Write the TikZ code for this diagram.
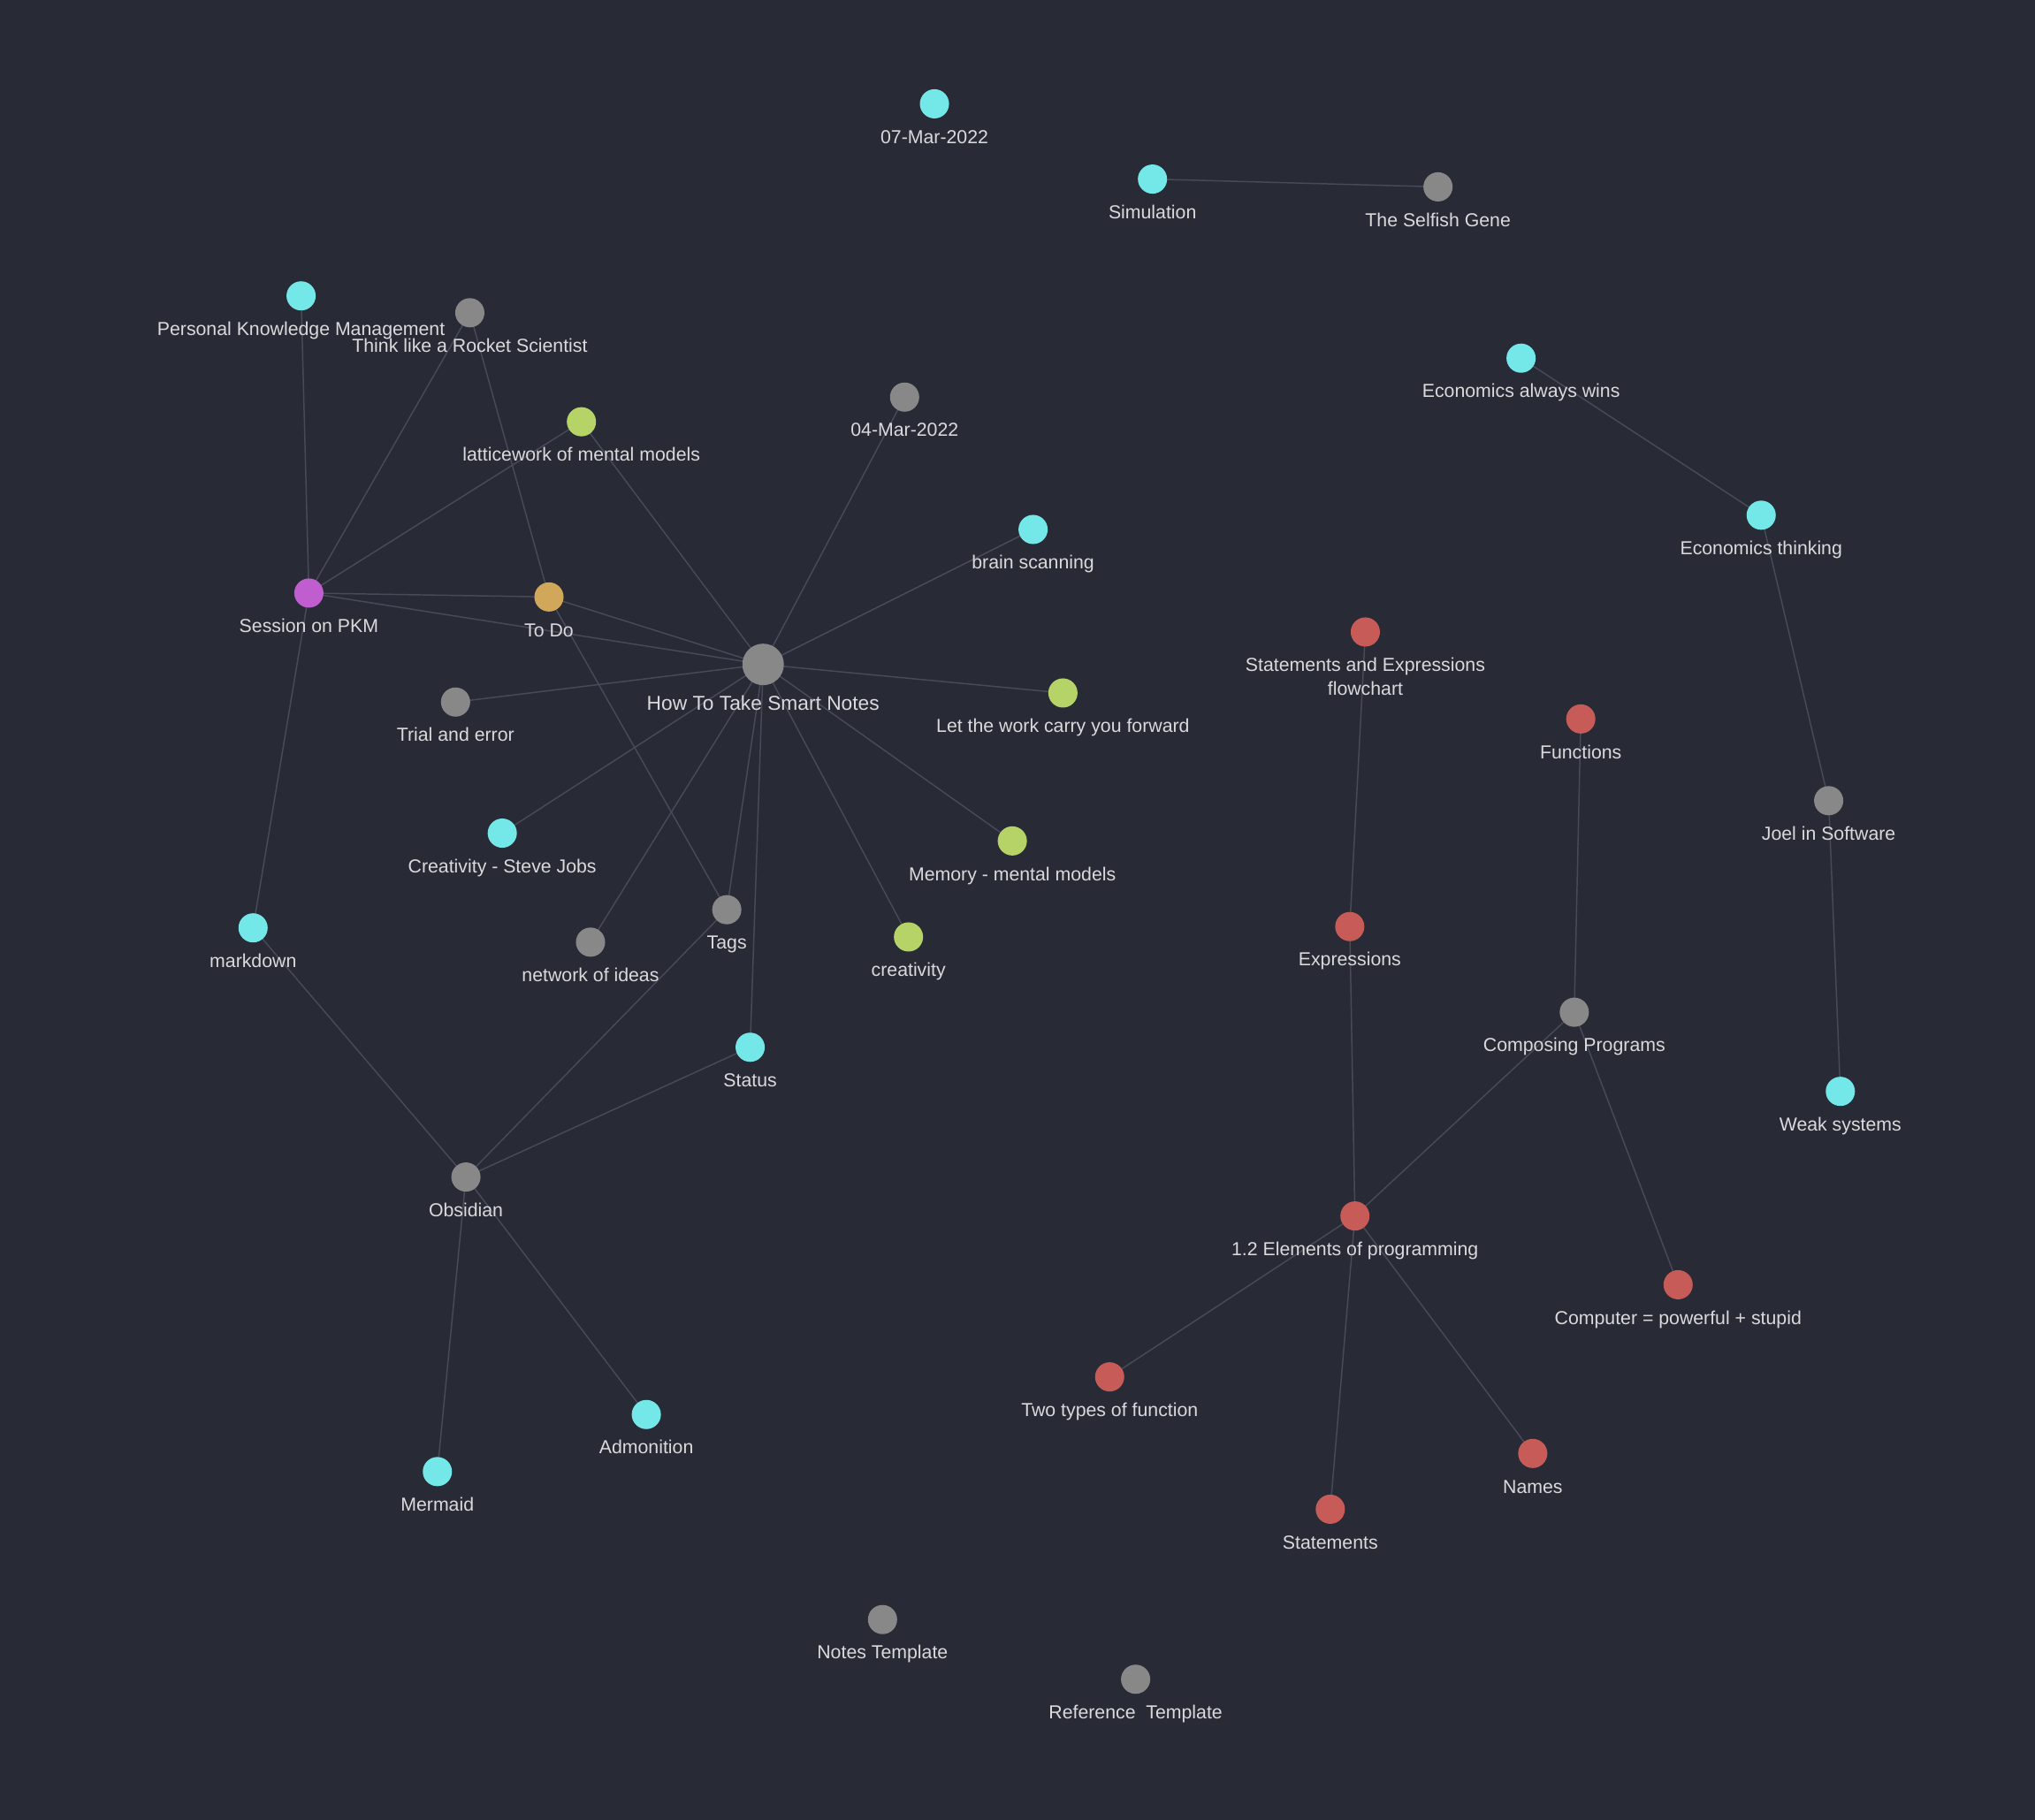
\documentclass[tikz,border=0pt]{standalone}
\usepackage{fontspec}
\setmainfont{Liberation Sans}
\usetikzlibrary{backgrounds}
\definecolor{bg}{RGB}{40,42,54}
\definecolor{edgec}{RGB}{72,74,89}
\definecolor{txtc}{RGB}{218,218,220}
\definecolor{cyanc}{RGB}{116,232,232}
\definecolor{grayc}{RGB}{136,136,136}
\definecolor{greenc}{RGB}{181,211,102}
\definecolor{redc}{RGB}{199,91,88}
\definecolor{purplec}{RGB}{192,94,207}
\definecolor{orangec}{RGB}{209,167,90}
\tikzset{
  dot/.style={circle,inner sep=0pt,minimum size=22.5pt},
  cy/.style={dot,fill=cyanc},
  gr/.style={dot,fill=grayc},
  gn/.style={dot,fill=greenc},
  rd/.style={dot,fill=redc},
  pu/.style={dot,fill=purplec},
  og/.style={dot,fill=orangec},
  hubdot/.style={dot,fill=grayc,minimum size=32pt},
  lbl/.style={anchor=base,text=txtc,inner sep=0pt,font=\fontsize{14.5}{18}\selectfont},
  link/.style={draw=edgec,line width=1pt}
}
\begin{document}
\begin{tikzpicture}[x=1pt,y=-1pt,label distance=19pt]
  \useasboundingbox (0,0) rectangle (1568,1402);
  % notes
  \node[cy,label={[lbl]below:07-Mar-2022}] (d07) at (720,80) {};
  \node[cy,label={[lbl]below:Simulation}] (sim) at (888,138) {};
  \node[gr,label={[lbl]below:The Selfish Gene}] (gene) at (1108,144) {};
  \node[cy,label={[lbl]below:Personal Knowledge Management}] (pkm) at (232,228) {};
  \node[gr,label={[lbl]below:Think like a Rocket Scientist}] (rocket) at (362,241) {};
  \node[gn,label={[lbl]below:latticework of mental models}] (lattice) at (448,325) {};
  \node[gr,label={[lbl]below:04-Mar-2022}] (d04) at (697,306) {};
  \node[cy,label={[lbl]below:Economics always wins}] (ecowins) at (1172,276) {};
  \node[cy,label={[lbl]below:Economics thinking}] (ecothink) at (1357,397) {};
  \node[cy,label={[lbl]below:brain scanning}] (brain) at (796,408) {};
  \node[pu,label={[lbl]below:Session on PKM}] (session) at (238,457) {};
  \node[og,label={[lbl]below:To Do}] (todo) at (423,460) {};
  \node[hubdot,label={[lbl,font=\fontsize{15.5}{19}\selectfont]below:How To Take Smart Notes}] (hub) at (588,512) {};
  \node[gr,label={[lbl]below:Trial and error}] (trial) at (351,541) {};
  \node[gn,label={[lbl]below:Let the work carry you forward}] (letwork) at (819,534) {};
  \node[rd,label={[lbl,align=center,yshift=-18pt]below:{Statements and Expressions\\flowchart}}] (stexp) at (1052,487) {};
  \node[rd,label={[lbl]below:Functions}] (func) at (1218,554) {};
  \node[cy,label={[lbl]below:Creativity - Steve Jobs}] (jobs) at (387,642) {};
  \node[gn,label={[lbl]below:Memory - mental models}] (memory) at (780,648) {};
  \node[gr,label={[lbl]below:Joel in Software}] (joel) at (1409,617) {};
  \node[cy,label={[lbl]below:markdown}] (md) at (195,715) {};
  \node[gr,label={[lbl]below:network of ideas}] (network) at (455,726) {};
  \node[gr,label={[lbl]below:Tags}] (tags) at (560,701) {};
  \node[gn,label={[lbl]below:creativity}] (creat) at (700,722) {};
  \node[rd,label={[lbl]below:Expressions}] (expr) at (1040,714) {};
  \node[gr,label={[lbl]below:Composing Programs}] (compose) at (1213,780) {};
  \node[cy,label={[lbl]below:Status}] (status) at (578,807) {};
  \node[cy,label={[lbl]below:Weak systems}] (weak) at (1418,841) {};
  \node[gr,label={[lbl]below:Obsidian}] (obs) at (359,907) {};
  \node[rd,label={[lbl]below:1.2 Elements of programming}] (elem) at (1044,937) {};
  \node[rd,label={[lbl]below:Computer = powerful + stupid}] (computer) at (1293,990) {};
  \node[rd,label={[lbl]below:Two types of function}] (twotypes) at (855,1061) {};
  \node[cy,label={[lbl]below:Admonition}] (admon) at (498,1090) {};
  \node[cy,label={[lbl]below:Mermaid}] (mermaid) at (337,1134) {};
  \node[rd,label={[lbl]below:Names}] (names) at (1181,1120) {};
  \node[rd,label={[lbl]below:Statements}] (stmts) at (1025,1163) {};
  \node[gr,label={[lbl]below:Notes Template}] (notestpl) at (680,1248) {};
  \node[gr,label={[lbl]below:Reference\ \ Template}] (reftpl) at (875,1294) {};
  % links, behind the dots
  \begin{scope}[on background layer]
    \fill[bg] (-5,-5) rectangle (1573,1407);
    \foreach \a/\b in {sim/gene,pkm/session,rocket/session,rocket/todo,lattice/session,
        lattice/hub,d04/hub,brain/hub,session/todo,session/hub,todo/hub,todo/tags,
        trial/hub,letwork/hub,jobs/hub,memory/hub,network/hub,tags/hub,creat/hub,
        status/hub,session/md,md/obs,tags/obs,status/obs,obs/mermaid,obs/admon,
        ecowins/ecothink,ecothink/joel,joel/weak,stexp/expr,expr/elem,func/compose,
        compose/elem,compose/computer,elem/twotypes,elem/stmts,elem/names}
      \path[link] (\a.center) -- (\b.center);
  \end{scope}
\end{tikzpicture}
\end{document}
